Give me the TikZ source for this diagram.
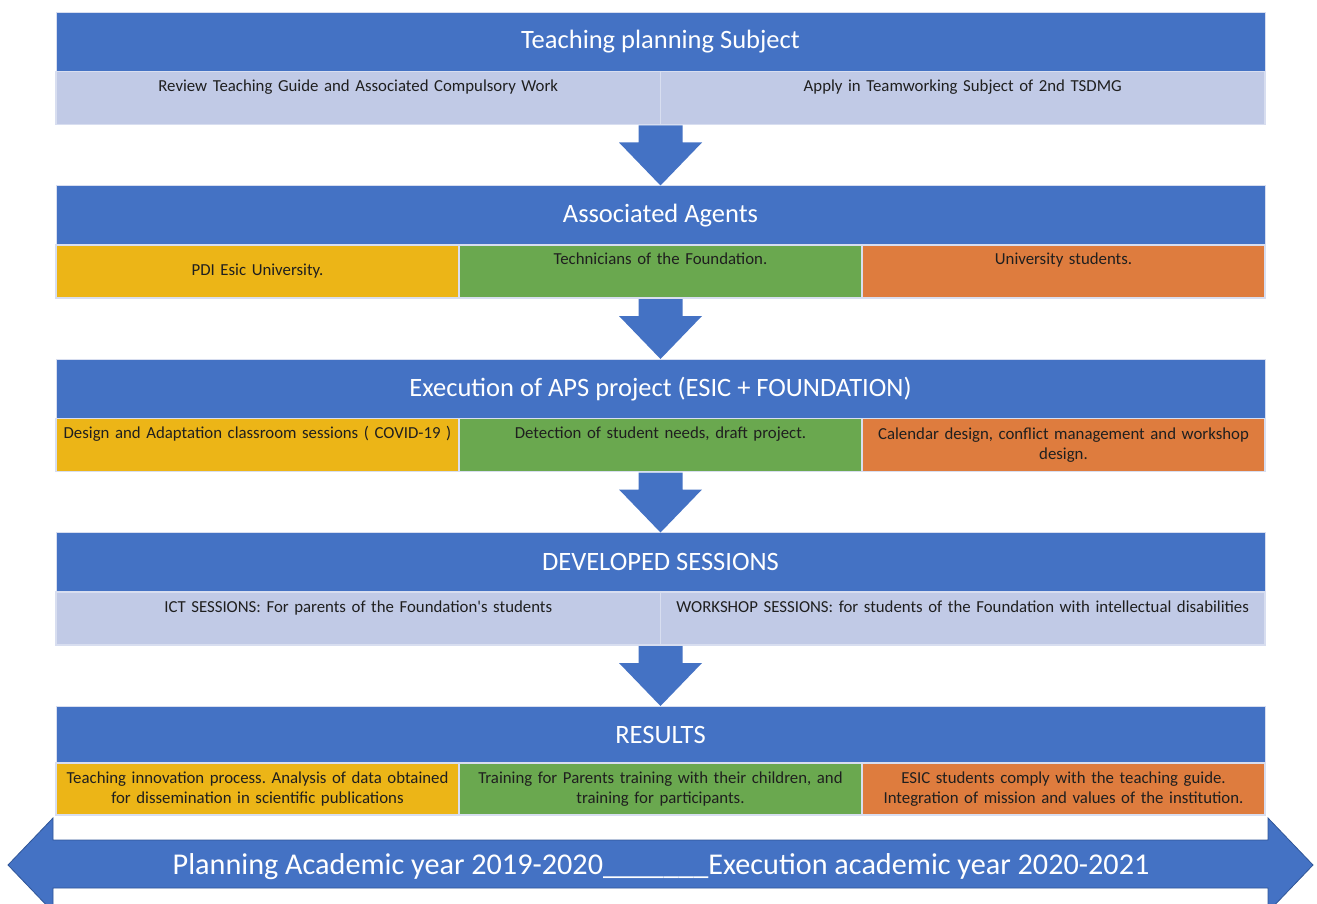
\documentclass[tikz,border=0pt]{standalone}
\usepackage{fontspec}
\setmainfont{Carlito}
\usetikzlibrary{positioning,calc}
\frenchspacing

\definecolor{hdblue}{HTML}{4472C4}
\definecolor{paleblue}{HTML}{C1CAE6}
\definecolor{gold}{HTML}{ECB517}
\definecolor{leaf}{HTML}{6AA84F}
\definecolor{rust}{HTML}{DE7C3E}
\definecolor{celledge}{HTML}{D8DEF0}
\definecolor{darkedge}{HTML}{2F5597}

\tikzset{
    header/.style={fill=hdblue, draw=celledge, line width=0.6pt, outer sep=0pt, inner sep=0pt,
        minimum width=1209pt, minimum height=59.5pt, text=white, font=\fontsize{26.5}{30}\selectfont},
    cell/.style={draw=celledge, line width=1.2pt, outer sep=0pt, inner xsep=3pt, inner ysep=0pt,
        minimum height=53pt, align=center, text=black!88, font=\fontsize{16.8}{19.5}\selectfont},
    half/.style={cell, fill=paleblue, minimum width=604.5pt, text width=598pt},
    third/.style={cell, minimum width=403pt, text width=397pt},
    celltop/.style={text height=20pt, text depth=33pt},
}

% block arrow from the bottom of one row to the top of the next header
\newcommand\downblock[2]{%
    \fill[hdblue] ($(#1)+(-22,-1)$) -- ($(#1)+(22,-1)$) -- ($(#2)+(22,43)$) -- ($(#2)+(41.5,43)$)
        -- (#2) -- ($(#2)+(-41.5,43)$) -- ($(#2)+(-22,43)$) -- cycle;}

\begin{document}
\begin{tikzpicture}[x=1pt, y=1pt]
    \useasboundingbox (0,0) rectangle (1317,-904);

    \node[header] (h1) at (660.5,-41.75) {Teaching planning Subject};
    \node[half, celltop, below right=0pt of h1.south west] (c1a) {Review Teaching Guide and Associated Compulsory Work};
    \node[half, celltop, right=0pt of c1a] (c1b) {Apply in Teamworking Subject of 2nd TSDMG};
    \coordinate (a1) at (h1.center |- c1a.south);

    \node[header, below=61pt of a1] (h2) {Associated Agents};
    \node[third, fill=gold, below right=0pt of h2.south west] (c2a) {PDI Esic University.};
    \node[third, fill=leaf, celltop, right=0pt of c2a] (c2b) {Technicians of the Foundation.};
    \node[third, fill=rust, celltop, right=0pt of c2b] (c2c) {University students.};
    \coordinate (a2) at (h2.center |- c2a.south);

    \node[header, below=61pt of a2] (h3) {Execution of APS project (ESIC + FOUNDATION)};
    \node[third, fill=gold, celltop, below right=0pt of h3.south west] (c3a) {Design and Adaptation classroom sessions ( COVID-19 )};
    \node[third, fill=leaf, celltop, right=0pt of c3a] (c3b) {Detection of student needs, draft project.};
    \node[third, fill=rust, right=0pt of c3b] (c3c) {Calendar design, conflict management and workshop\\design.};
    \coordinate (a3) at (h3.center |- c3a.south);

    \node[header, below=61pt of a3] (h4) {DEVELOPED SESSIONS};
    \node[half, celltop, below right=0pt of h4.south west] (c4a) {ICT SESSIONS: For parents of the Foundation\textquotesingle s students};
    \node[half, celltop, right=0pt of c4a] (c4b) {WORKSHOP SESSIONS: for students of the Foundation with intellectual disabilities};
    \coordinate (a4) at (h4.center |- c4a.south);

    \node[header, minimum height=57pt, below=61pt of a4] (h5) {RESULTS};
    \node[third, fill=gold, minimum height=52pt, below right=0pt of h5.south west] (c5a) {Teaching innovation process. Analysis of data obtained\\for dissemination in scientific publications};
    \node[third, fill=leaf, minimum height=52pt, right=0pt of c5a] (c5b) {Training for Parents training with their children, and\\training for participants.};
    \node[third, fill=rust, minimum height=52pt, right=0pt of c5b] (c5c) {ESIC students comply with the teaching guide.\\Integration of mission and values of the institution.};

    \downblock{a1}{h2.north}
    \downblock{a2}{h3.north}
    \downblock{a3}{h4.north}
    \downblock{a4}{h5.north}

    % time line
    \filldraw[hdblue, draw=darkedge, line width=0.8pt] (8,-865) -- (53,-818) -- (53,-840) -- (1268,-840) -- (1268,-818)
        -- (1313,-865) -- (1268,-912) -- (1268,-888) -- (53,-888) -- (53,-912) -- cycle;
    \node[text=white, font=\fontsize{30.2}{36}\selectfont] (years) at (661,-867)
        {Planning Academic year 2019-2020\_\_\_\_\_\_\_Execution academic year 2020-2021};
\end{tikzpicture}
\end{document}
